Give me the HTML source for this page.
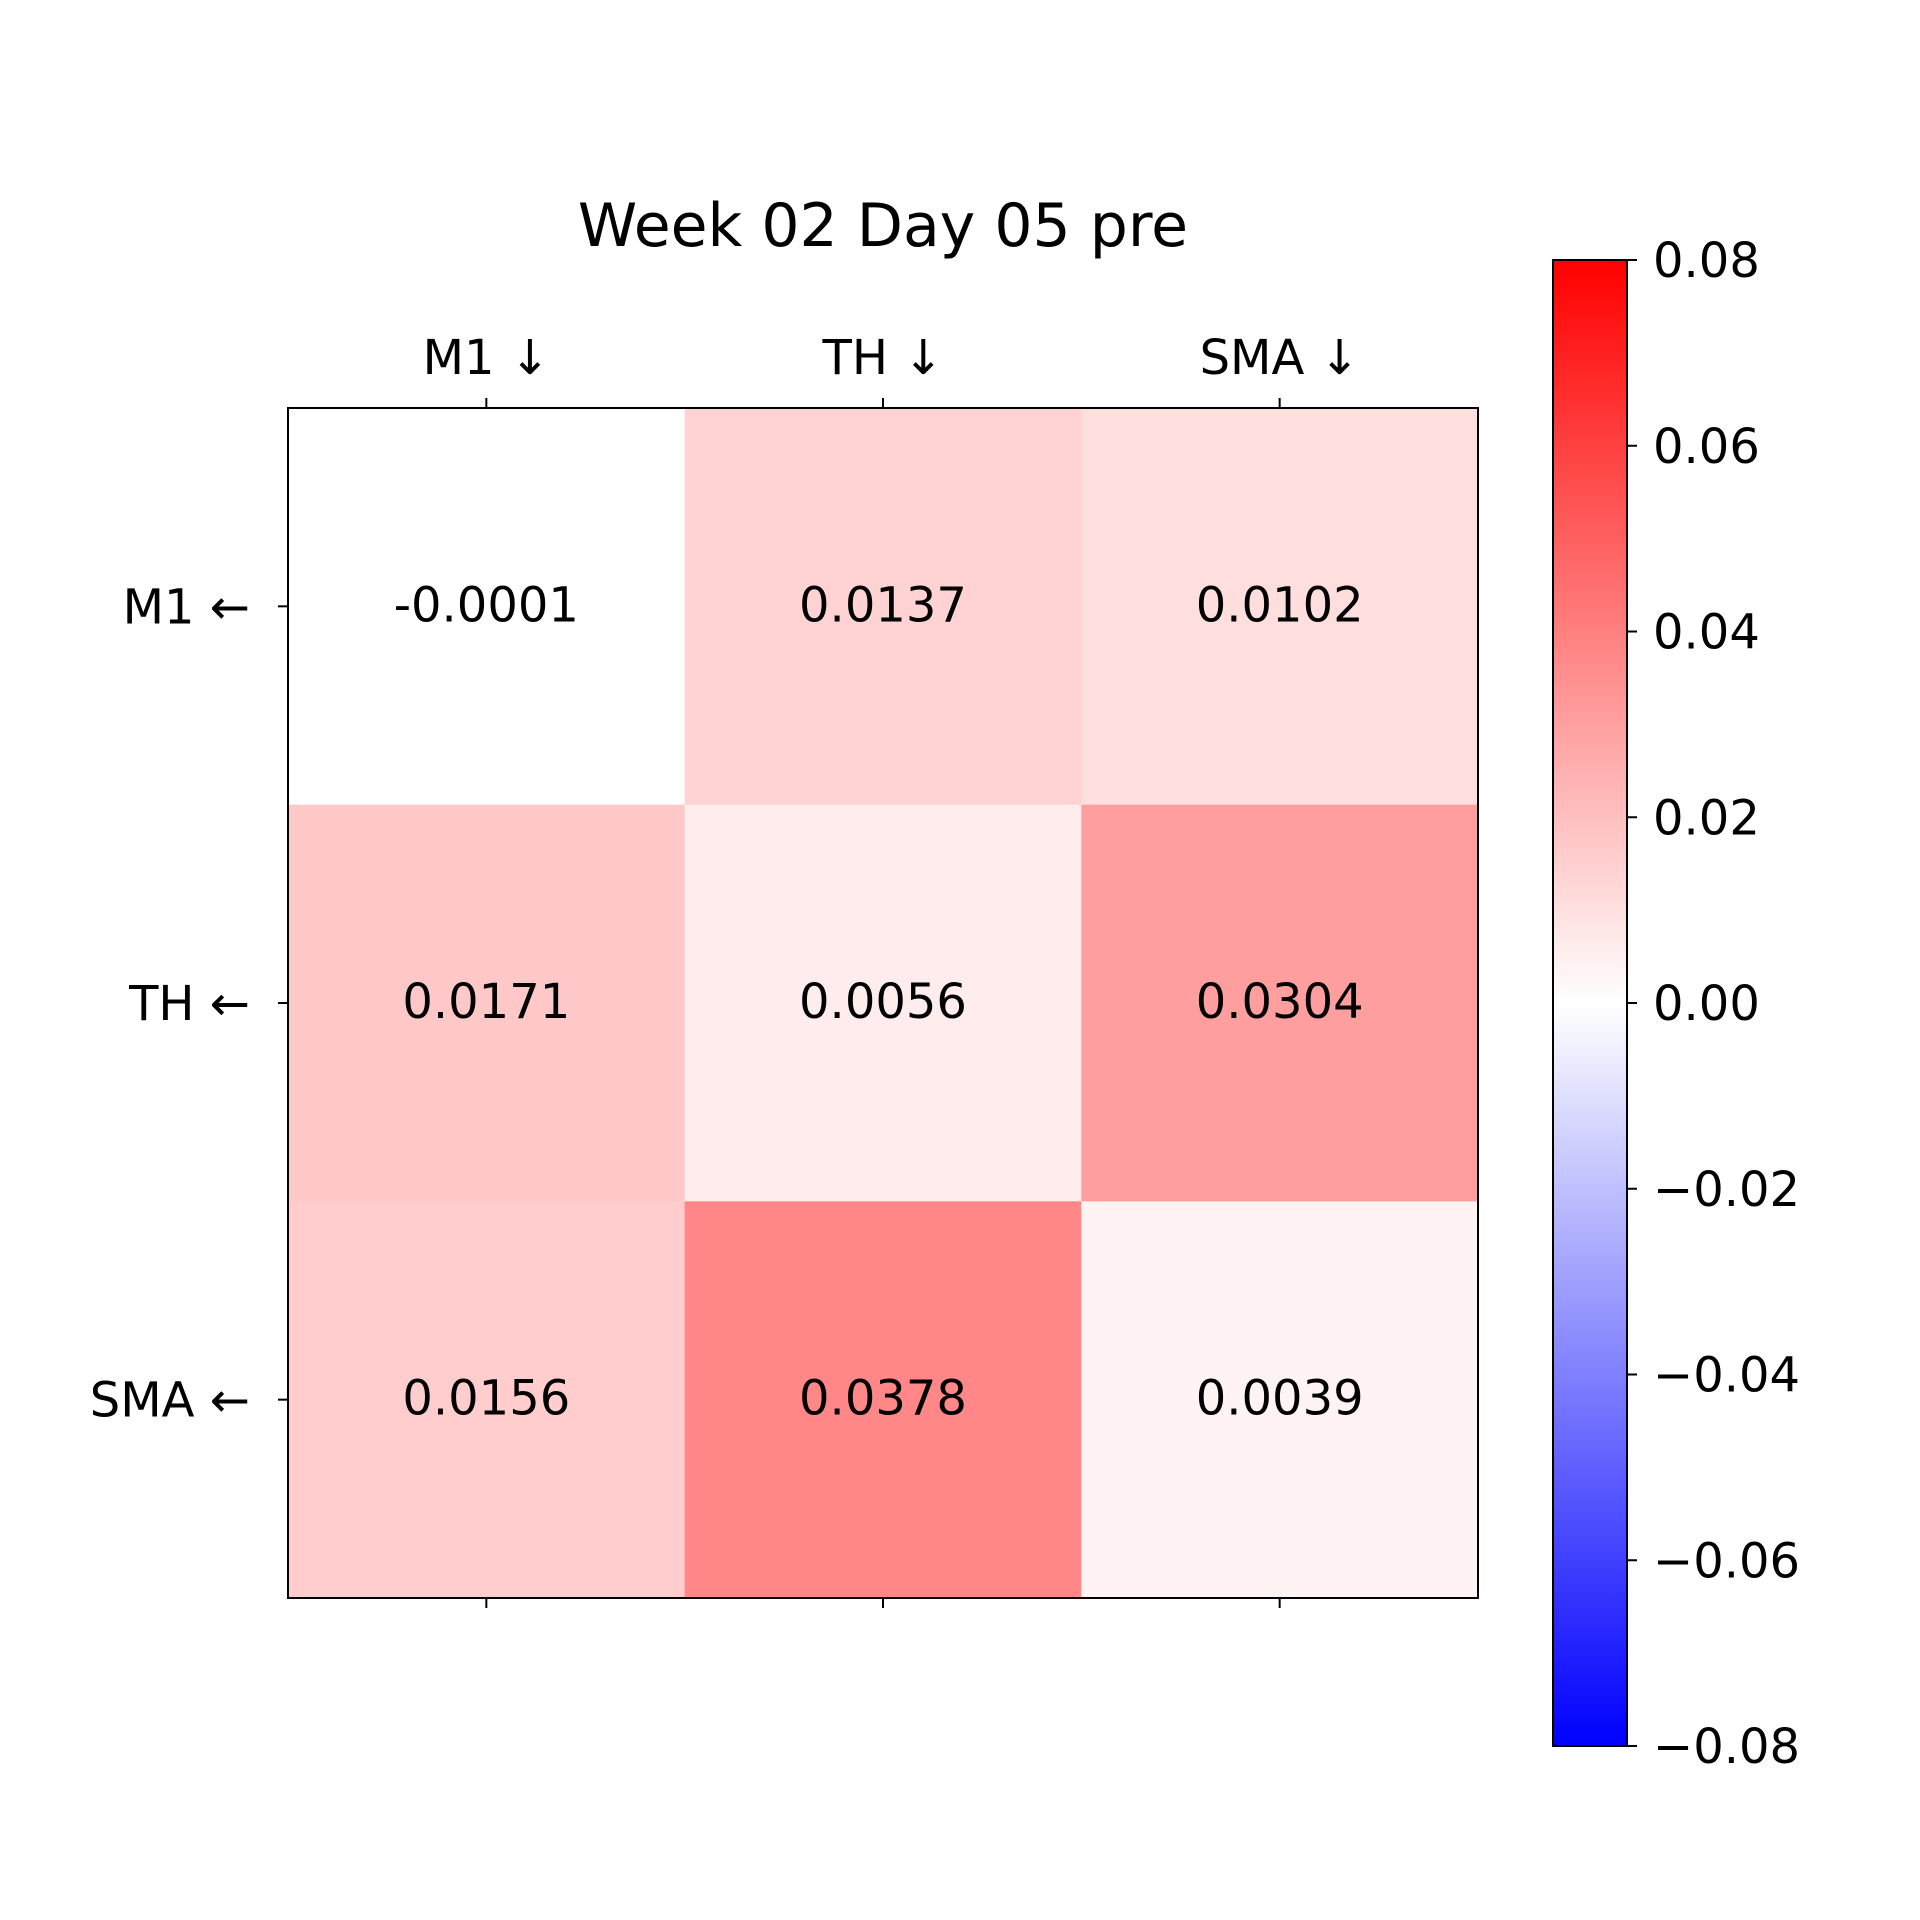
<!DOCTYPE html>
<html><head><meta charset="utf-8"><style>html,body{margin:0;padding:0;background:#fff}svg{display:block}text{font-family:"DejaVu Sans","Liberation Sans",sans-serif;fill:#000}</style></head>
<body>
<svg id="chart" width="1920" height="1920" viewBox="0 0 1920 1920" xmlns="http://www.w3.org/2000/svg">
<defs><linearGradient id="bwr" x1="0" y1="1" x2="0" y2="0">
<stop offset="0" stop-color="#0000ff"/><stop offset="0.5" stop-color="#ffffff"/><stop offset="1" stop-color="#ff0000"/></linearGradient></defs>
<text x="883" y="246" font-size="60" text-anchor="middle">Week 02 Day 05 pre</text>
<g id="cells"></g><g id="labels"></g>
</svg>
<script>
const rowLabels = ["M1 \u2190", "TH \u2190", "SMA \u2190"];
const colLabels = ["M1 \u2193", "TH \u2193", "SMA \u2193"];
const values = [
  [-0.0001, 0.0137, 0.0102],
  [0.0171, 0.0056, 0.0304],
  [0.0156, 0.0378, 0.0039]
];
const valueLabels = [
  ["-0.0001","0.0137","0.0102"],
  ["0.0171","0.0056","0.0304"],
  ["0.0156","0.0378","0.0039"]
];
const cbTicks = [0.08, 0.06, 0.04, 0.02, 0.00, -0.02, -0.04, -0.06, -0.08];
const cbTickLabels = ["0.08","0.06","0.04","0.02","0.00","\u22120.02","\u22120.04","\u22120.06","\u22120.08"];
const vmin = -0.08, vmax = 0.08;

const NS = "http://www.w3.org/2000/svg";
const svg = document.getElementById('chart');
const L = 288, T = 408, S = 1190;
const n = colLabels.length, cw = S / n;
const cx = i => L + cw * (i + 0.5);
const cy = j => T + cw * (j + 0.5);
const CB = {x: 1553, w: 74, top: 260, bot: 1746};
const cbY = v => CB.bot - (v - vmin) / (vmax - vmin) * (CB.bot - CB.top);
function color(v) {
  const t = Math.max(0, Math.min(1, (v - vmin) / (vmax - vmin)));
  let r, g, b;
  if (t < 0.5) { r = g = t * 2; b = 1; } else { r = 1; g = b = 1 - (t - 0.5) * 2; }
  return `rgb(${Math.round(r*255)},${Math.round(g*255)},${Math.round(b*255)})`;
}
function mk(tag, attrs, parent) {
  const e = document.createElementNS(NS, tag);
  for (const k in attrs) e.setAttribute(k, attrs[k]);
  (parent || svg).appendChild(e);
  return e;
}
const cells = document.getElementById('cells');
values.forEach((row, j) => row.forEach((v, i) => {
  const r = mk('rect', {x: L + cw * i, y: T + cw * j, width: cw + 0.5, height: cw + 0.5, fill: color(v)}, cells);
  
  
  const t = mk('text', {x: cx(i), y: cy(j) + 15, 'font-size': 48, 'text-anchor': 'middle'}, cells);
  t.textContent = valueLabels[j][i];
  
  
}));
const frame = mk('rect', {x: L, y: T, width: S, height: S, fill: 'none', stroke: '#000', 'stroke-width': 2});


colLabels.forEach((lab, i) => {
  mk('line', {x1: cx(i), x2: cx(i), y1: T, y2: T - 10, stroke: '#000', 'stroke-width': 2});
  mk('line', {x1: cx(i), x2: cx(i), y1: T + S, y2: T + S + 10, stroke: '#000', 'stroke-width': 2});
  const t = mk('text', {x: cx(i), y: 374, 'font-size': 48, 'text-anchor': 'middle'});
  t.textContent = lab;
  
  
});
rowLabels.forEach((lab, j) => {
  mk('line', {x1: L, x2: L - 10, y1: cy(j), y2: cy(j), stroke: '#000', 'stroke-width': 2});
  const t = mk('text', {x: L - 38, y: cy(j) + 17, 'font-size': 48, 'text-anchor': 'end'});
  t.textContent = lab;
  
  
});
const cb = mk('rect', {x: CB.x, y: CB.top, width: CB.w, height: CB.bot - CB.top, fill: 'url(#bwr)', stroke: '#000', 'stroke-width': 2});


cbTicks.forEach((v, k) => {
  const y = cbY(v);
  mk('line', {x1: CB.x + CB.w, x2: CB.x + CB.w + 10, y1: y, y2: y, stroke: '#000', 'stroke-width': 2});
  const t = mk('text', {x: 1653, y: y + 17, 'font-size': 48});
  t.textContent = cbTickLabels[k];
  
  
});
</script>
</body></html>
